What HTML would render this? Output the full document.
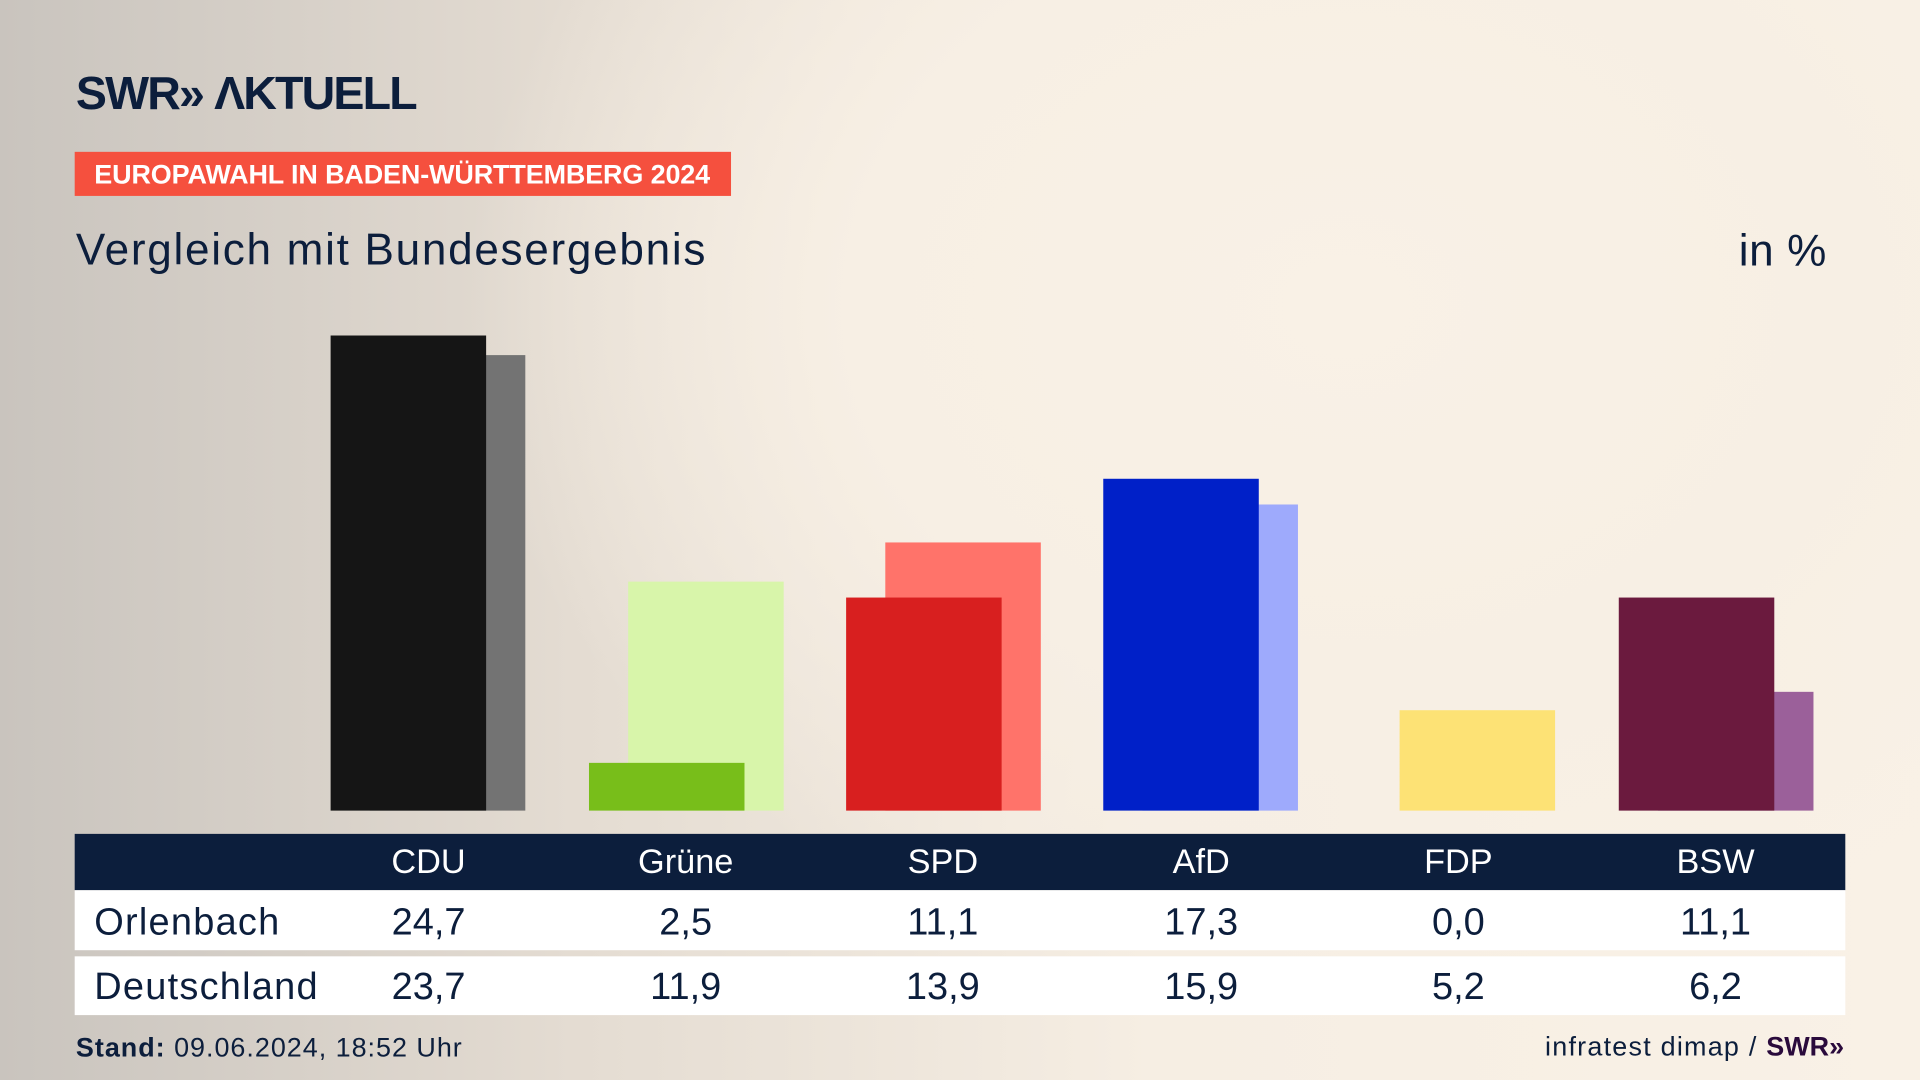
<!DOCTYPE html>
<html><head><meta charset="utf-8"><style>
html,body{margin:0;padding:0;width:1920px;height:1080px;overflow:hidden}
body{background:#f8f0e5}
#s{position:absolute;left:0;top:0;width:1568px;height:882px;transform:scale(1.22449);transform-origin:0 0;
background:radial-gradient(ellipse 900px 700px at 1100px 250px,#f9f1e6 0%,#f7efe4 45%,rgba(247,239,228,0) 80%),linear-gradient(90deg,#c9c4be 0%,#e4dcd2 30%,#f6eee3 60%,#f9f1e6 100%);
font-family:"Liberation Sans","DejaVu Sans",sans-serif;color:#0c1e3c}
.a{position:absolute}
.bar{position:absolute;bottom:220px;width:127px}
.hd{position:absolute;top:681px;left:61px;width:1446px;height:46px;background:#0c1e3c}
.row{position:absolute;left:61px;width:1446px;background:#fff}
.c{position:absolute;width:200px;margin-left:-100px;text-align:center}
</style></head><body><div id="s">
<div class="a" style="left:62px;top:56px;font-size:38px;font-weight:bold;letter-spacing:-1.5px">SWR» ΛKTUELL</div>
<div class="a" style="left:61px;top:124px;width:536px;height:36px;background:#f5503e;color:#fff;font-weight:bold;font-size:22px;line-height:37px;text-indent:16px;letter-spacing:-0.1px">EUROPAWAHL IN BADEN-WÜRTTEMBERG 2024</div>
<div class="a" style="left:62px;top:183px;font-size:36px;letter-spacing:1.4px">Vergleich mit Bundesergebnis</div>
<div class="a" style="left:1420px;top:184px;font-size:36px;letter-spacing:0.5px">in %</div>

<div class="bar" style="left:302px;height:372px;background:#737373"></div>
<div class="bar" style="left:270px;height:388px;background:#151515"></div>
<div class="bar" style="left:513px;height:187px;background:#d8f5aa"></div>
<div class="bar" style="left:481px;height:39px;background:#78be1a"></div>
<div class="bar" style="left:723px;height:219px;background:#ff736a"></div>
<div class="bar" style="left:691px;height:174px;background:#d81f1f"></div>
<div class="bar" style="left:933px;height:250px;background:#9eaafc"></div>
<div class="bar" style="left:901px;height:271px;background:#0020c8"></div>
<div class="bar" style="left:1143px;height:82px;background:#fde275"></div>
<div class="bar" style="left:1354px;height:97px;background:#9b609a"></div>
<div class="bar" style="left:1322px;height:174px;background:#6b1a3e"></div>

<div class="hd"></div>
<div class="row" style="top:727px;height:49px"></div>
<div class="row" style="top:781px;height:48px"></div>
<div style="position:absolute;top:688px;left:0;width:1568px;color:#fff;font-size:28px">
<div class="c" style="left:350px">CDU</div><div class="c" style="left:560px">Grüne</div><div class="c" style="left:770px">SPD</div><div class="c" style="left:981px">AfD</div><div class="c" style="left:1191px">FDP</div><div class="c" style="left:1401px">BSW</div></div>
<div style="position:absolute;top:735px;left:0;width:1568px;font-size:31px">
<div class="a" style="left:77px;letter-spacing:1px">Orlenbach</div>
<div class="c" style="left:350px">24,7</div><div class="c" style="left:560px">2,5</div><div class="c" style="left:770px">11,1</div><div class="c" style="left:981px">17,3</div><div class="c" style="left:1191px">0,0</div><div class="c" style="left:1401px">11,1</div></div>
<div style="position:absolute;top:788px;left:0;width:1568px;font-size:31px">
<div class="a" style="left:77px;letter-spacing:1px">Deutschland</div>
<div class="c" style="left:350px">23,7</div><div class="c" style="left:560px">11,9</div><div class="c" style="left:770px">13,9</div><div class="c" style="left:981px">15,9</div><div class="c" style="left:1191px">5,2</div><div class="c" style="left:1401px">6,2</div></div>
<div class="a" style="left:62px;top:843px;font-size:22px;letter-spacing:0.8px"><b>Stand:</b> 09.06.2024, 18:52 Uhr</div>
<div class="a" style="right:62px;top:842px;font-size:22px;letter-spacing:1px">infratest dimap / <b style="color:#2a0a3c;letter-spacing:0">SWR»</b></div>
</div></body></html>
